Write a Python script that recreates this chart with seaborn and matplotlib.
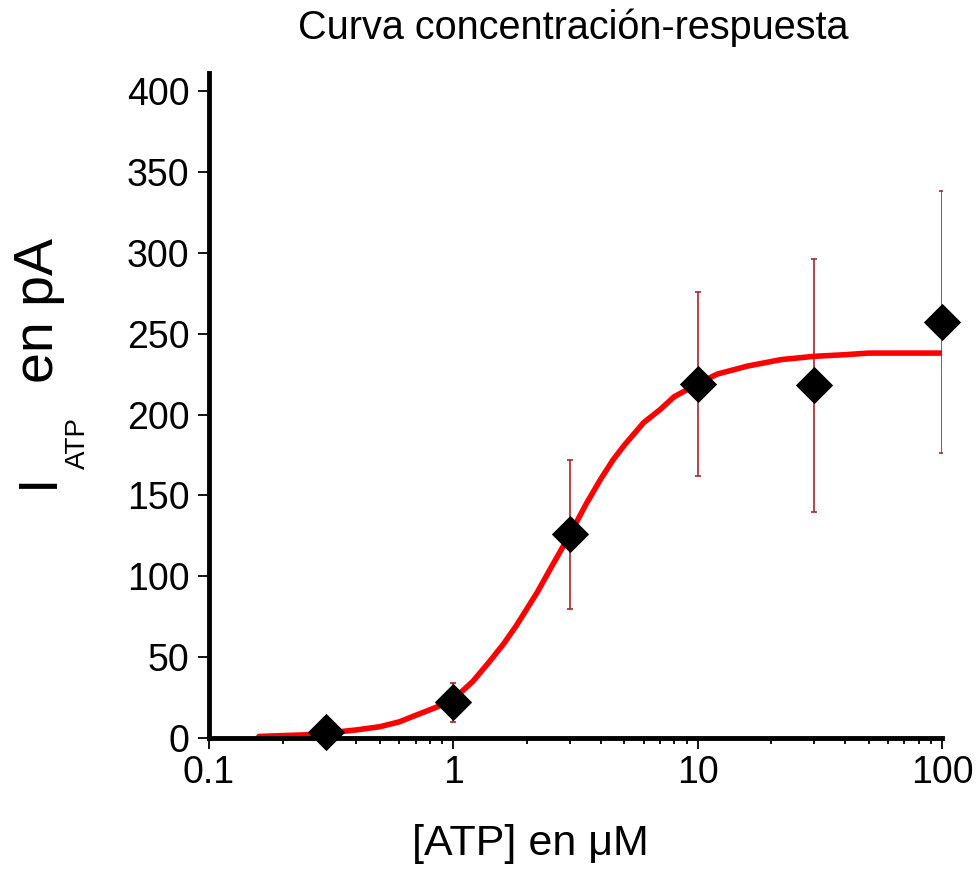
import numpy as np
import matplotlib
matplotlib.use("Agg")
import matplotlib.pyplot as plt
import seaborn as sns
from matplotlib.ticker import NullFormatter

sns.set_style("ticks")
plt.rcParams["font.family"] = ["Liberation Sans", "DejaVu Sans"]
for key in ["text.color", "axes.labelcolor", "xtick.color", "ytick.color", "axes.edgecolor"]:
    plt.rcParams[key] = "black"

# measured points (mean +/- error)
atp_conc = [0.3, 1, 3, 10, 30, 100]
i_atp = [4, 22, 126, 219, 218, 257]
i_err = [2, 12, 46, 57, 78, 81]

# fitted curve
fit_x = [0.16, 0.2, 0.25, 0.3, 0.4, 0.5, 0.6, 0.7, 0.85, 1, 1.2, 1.4, 1.6, 1.8, 2.0, 2.2,
         2.5, 3, 3.5, 4, 4.5, 5, 6, 7, 8, 10, 12, 16, 22, 30, 40, 50, 70, 100]
fit_y = [1, 1.5, 2, 3, 5, 7, 10, 14, 19, 24, 35, 47, 58, 69, 80, 90,
         105, 126, 145, 160, 172, 181, 195, 203, 211, 219, 225, 230, 234, 236, 237, 238, 238, 238]

xticks = [0.1, 1, 10, 100]
xtick_labels = ["0.1", "1", "10", "100"]
yticks = [0, 50, 100, 150, 200, 250, 300, 350, 400]


fig = plt.figure(figsize=(9.79, 8.69), dpi=100)
ax = fig.add_axes([0.2135, 0.1507, 0.749, 0.765])

ax.errorbar(atp_conc, i_atp, yerr=i_err, fmt="none", ecolor="#a8282c",
            elinewidth=1.2, capsize=2, capthick=1.2, zorder=1)
sns.lineplot(x=fit_x, y=fit_y, ax=ax, color="#ff0000", linewidth=4, zorder=2)
sns.scatterplot(x=atp_conc, y=i_atp, ax=ax, marker="D", s=360, color="black",
                edgecolor="black", linewidth=0, zorder=3, clip_on=False)

ax.set_xscale("log")
ax.set_xlim(0.1, 100)
ax.set_ylim(0, 411)
ax.set_xticks(xticks)
ax.set_xticklabels(xtick_labels)
ax.xaxis.set_minor_formatter(NullFormatter())
ax.set_yticks(yticks)
ax.set_yticklabels([str(v) for v in yticks])

sns.despine(ax=ax)
for side in ["left", "bottom"]:
    ax.spines[side].set_linewidth(3.5)
    ax.spines[side].set_color("black")

ax.tick_params(axis="both", which="major", length=8, width=1.3, labelsize=27, color="black")
ax.tick_params(axis="x", which="major", pad=4)
ax.tick_params(axis="y", which="major", pad=6)
ax.tick_params(axis="x", which="minor", length=4, width=1.3, color="black")

# titles and labels
fig.text(573 / 979, 1 - 39 / 869, "Curva concentración-respuesta", fontsize=28.5,
         ha="center", va="baseline")
fig.text(530 / 979, 1 - 855 / 869, "[ATP] en μM", fontsize=31, ha="center", va="baseline")

fig.text(53 / 979, 1 - 488 / 869, "I", fontsize=40, rotation=90,
         rotation_mode="anchor", ha="left", va="baseline")
fig.text(85 / 979, 1 - 469 / 869, "ATP", fontsize=20, rotation=90,
         rotation_mode="anchor", ha="left", va="baseline")
fig.text(53 / 979, 1 - 383 / 869, "en pA", fontsize=40, rotation=90,
         rotation_mode="anchor", ha="left", va="baseline")

fig.savefig("out.png", dpi=100)
